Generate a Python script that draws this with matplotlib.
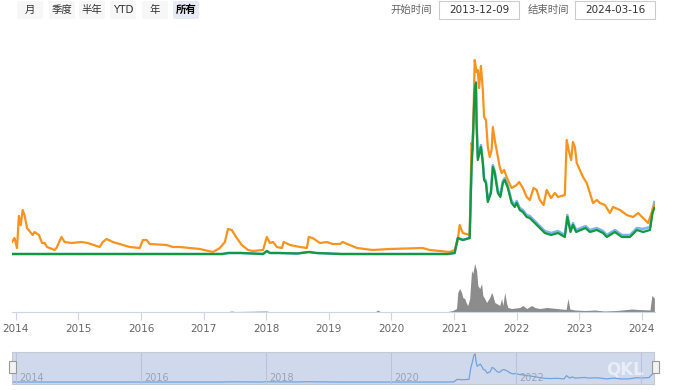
import matplotlib
matplotlib.use('Agg')
import matplotlib.pyplot as plt
from matplotlib.patches import FancyBboxPatch, Rectangle

plt.rcParams['font.family'] = ['DejaVu Sans', 'Noto Sans CJK SC']

W, H = 680, 390

# Series (x = fractional year)
orange_x = [2013.94, 2013.98, 2014.02, 2014.05, 2014.08, 2014.11, 2014.14, 2014.18, 2014.27, 2014.30,
            2014.37, 2014.42, 2014.46, 2014.50, 2014.62, 2014.65, 2014.73, 2014.78, 2014.89, 2015.05,
            2015.15, 2015.34, 2015.39, 2015.45, 2015.55, 2015.82, 2015.98, 2016.03, 2016.09, 2016.14,
            2016.41, 2016.51, 2016.62, 2016.94, 2017.15, 2017.26, 2017.34, 2017.39, 2017.45, 2017.53,
            2017.61, 2017.71, 2017.79, 2017.95, 2018.01, 2018.06, 2018.11, 2018.17, 2018.25, 2018.28,
            2018.38, 2018.54, 2018.65, 2018.68, 2018.74, 2018.86, 2018.97, 2019.06, 2019.18, 2019.22,
            2019.45, 2019.70, 2019.97, 2020.50, 2020.61, 2020.93, 2021.01, 2021.06, 2021.09, 2021.14,
            2021.25, 2021.28, 2021.30, 2021.33, 2021.36, 2021.38, 2021.40, 2021.43, 2021.46, 2021.48,
            2021.51, 2021.54, 2021.57, 2021.60, 2021.62, 2021.65, 2021.68, 2021.73, 2021.76, 2021.80,
            2021.84, 2021.86, 2021.92, 2022.00, 2022.04, 2022.10, 2022.16, 2022.21, 2022.27, 2022.32,
            2022.37, 2022.43, 2022.48, 2022.55, 2022.61, 2022.66, 2022.77, 2022.80, 2022.83, 2022.87,
            2022.90, 2022.93, 2022.96, 2023.01, 2023.06, 2023.12, 2023.17, 2023.22, 2023.28, 2023.33,
            2023.41, 2023.49, 2023.54, 2023.65, 2023.76, 2023.86, 2023.94, 2024.02, 2024.10, 2024.17,
            2024.20]
orange_y = [1.4, 1.8, 0.8, 4.0, 3.1, 4.6, 4.1, 2.8, 2.1, 2.4,
            2.1, 1.3, 1.3, 0.9, 0.6, 0.8, 1.9, 1.4, 1.3, 1.4,
            1.3, 0.9, 1.4, 1.7, 1.4, 0.9, 0.8, 1.6, 1.6, 1.2,
            1.1, 0.9, 0.9, 0.7, 0.4, 0.8, 1.4, 2.7, 2.6, 1.8,
            1.1, 0.6, 0.5, 0.6, 1.9, 1.3, 1.4, 0.9, 0.8, 1.4,
            1.1, 0.9, 0.8, 1.9, 1.8, 1.3, 1.4, 1.2, 1.2, 1.4,
            0.8, 0.6, 0.7, 0.8, 0.6, 0.4, 0.6, 1.6, 3.1, 2.3,
            2.1, 11.3, 10.6, 19.6, 18.4, 18.6, 16.8, 19.0, 16.6, 13.9,
            13.6, 10.9, 9.9, 10.6, 12.9, 11.6, 10.6, 8.9, 8.3, 8.6,
            7.9, 7.6, 6.8, 7.1, 7.4, 6.8, 5.9, 5.6, 6.8, 6.6,
            5.6, 5.1, 6.6, 5.8, 6.3, 5.9, 6.1, 11.6, 10.6, 9.6,
            11.4, 10.9, 9.3, 8.6, 7.9, 7.3, 6.3, 5.3, 5.6, 5.3,
            5.1, 4.3, 4.9, 4.6, 4.1, 3.9, 4.3, 3.8, 3.3, 4.6,
            5.1]

green_x = [2013.94, 2017.30, 2017.39, 2017.60, 2017.95, 2018.01, 2018.06, 2018.20, 2018.50, 2018.68,
           2018.80, 2019.20, 2020.90, 2021.01, 2021.06, 2021.14, 2021.25, 2021.28, 2021.30, 2021.33,
           2021.35, 2021.36, 2021.38, 2021.43, 2021.46, 2021.48, 2021.51, 2021.54, 2021.59, 2021.62,
           2021.65, 2021.70, 2021.74, 2021.78, 2021.81, 2021.86, 2021.92, 2021.97, 2022.00, 2022.05,
           2022.10, 2022.16, 2022.21, 2022.29, 2022.37, 2022.45, 2022.55, 2022.66, 2022.77, 2022.81,
           2022.86, 2022.90, 2022.95, 2023.10, 2023.17, 2023.28, 2023.38, 2023.44, 2023.57, 2023.68,
           2023.81, 2023.92, 2024.02, 2024.13, 2024.17, 2024.20]
green_y = [0.2, 0.2, 0.3, 0.3, 0.2, 0.5, 0.3, 0.3, 0.25, 0.4,
           0.3, 0.2, 0.2, 0.3, 1.8, 1.6, 1.8, 8.9, 11.6, 16.6,
           17.3, 13.3, 9.6, 10.9, 9.3, 7.6, 7.3, 5.4, 6.3, 8.9,
           8.3, 6.3, 5.9, 7.3, 7.6, 6.8, 5.3, 4.9, 5.3, 4.6,
           4.4, 3.9, 3.8, 3.3, 2.8, 2.3, 2.1, 2.3, 1.9, 3.9,
           2.4, 3.1, 2.4, 2.8, 2.4, 2.6, 2.3, 1.9, 2.4, 1.9,
           1.9, 2.6, 2.4, 2.6, 4.3, 4.8]
blue_y = [0.2, 0.2, 0.3, 0.3, 0.2, 0.5, 0.3, 0.3, 0.25, 0.4,
          0.3, 0.2, 0.2, 0.3, 1.8, 1.6, 1.8, 9.0, 11.7, 16.7,
          17.4, 13.5, 9.8, 11.1, 9.5, 7.8, 7.5, 5.6, 6.5, 9.1,
          8.5, 6.5, 6.1, 7.5, 7.8, 7.0, 5.5, 5.1, 5.5, 4.8,
          4.6, 4.1, 4.0, 3.5, 3.0, 2.5, 2.3, 2.5, 2.1, 4.1,
          2.6, 3.3, 2.6, 3.0, 2.6, 2.8, 2.5, 2.1, 2.6, 2.1,
          2.1, 2.8, 2.7, 2.9, 4.6, 5.4]

vol_x = [2013.94, 2017.40, 2017.45, 2017.50, 2018.00, 2018.05, 2019.75, 2019.78, 2019.82, 2020.90,
         2020.98, 2021.04, 2021.06, 2021.09, 2021.12, 2021.14, 2021.17, 2021.20, 2021.22, 2021.25,
         2021.28, 2021.30, 2021.33, 2021.36, 2021.38, 2021.41, 2021.44, 2021.46, 2021.49, 2021.52,
         2021.54, 2021.57, 2021.60, 2021.62, 2021.65, 2021.68, 2021.73, 2021.76, 2021.78, 2021.81,
         2021.84, 2021.86, 2021.92, 2022.05, 2022.10, 2022.16, 2022.24, 2022.29, 2022.37, 2022.48,
         2022.64, 2022.79, 2022.82, 2022.85, 2022.93, 2023.10, 2023.25, 2023.40, 2023.60, 2023.84,
         2023.94, 2024.13, 2024.16, 2024.19, 2024.20]
vol_y = [0.5, 0.5, 1.0, 0.5, 1.0, 0.5, 0.5, 2.0, 0.5, 0.5,
         1.5, 3.5, 19.5, 23.5, 19.5, 14.5, 13.5, 8.5, 6.5, 13.5,
         41.5, 38.5, 48.5, 41.5, 26.5, 23.5, 28.5, 16.5, 13.5, 9.5,
         11.5, 14.5, 19.5, 16.5, 9.5, 8.5, 6.5, 13.5, 6.5, 19.5,
         8.5, 4.5, 3.5, 4.5, 6.5, 3.5, 6.5, 4.5, 3.5, 4.5,
         3.5, 2.5, 13.5, 3.0, 2.0, 1.5, 2.0, 1.0, 1.5, 3.0,
         2.5, 2.0, 16.5, 14.5, 14.0]

years = [2014, 2015, 2016, 2017, 2018, 2019, 2020, 2021, 2022, 2023, 2024]
nav_years = [2014, 2016, 2018, 2020, 2022, 2024]
buttons = ['月', '季度', '半年', 'YTD', '年', '所有']
start_date = '2013-12-09'
end_date = '2024-03-16'

x0, x1 = 2013.94, 2024.21
axis_col = '#ccd6eb'
label_col = '#666666'


def fx(px):
    return px / W


def fy(py):
    return 1 - py / H


fig = plt.figure(figsize=(W / 100, H / 100), dpi=100)

# price panel
ax = fig.add_axes([fx(12), fy(256), fx(655) - fx(12), fy(40) - fy(256)])
ax.plot(orange_x, orange_y, color='#f7931e', lw=1.6, zorder=3)
ax.plot(green_x, blue_y, color='#7cb5ec', lw=1.8, zorder=2)
ax.plot(green_x, green_y, color='#12983e', lw=1.6, zorder=4)
ax.set_xlim(x0, x1)
ax.set_ylim(0, 21.6)
ax.axis('off')

# volume panel
axv = fig.add_axes([fx(12), fy(312), fx(655) - fx(12), fy(256) - fy(312)])
axv.fill_between(vol_x, vol_y, color='#8c8c8c', lw=0)
axv.set_xlim(x0, x1)
axv.set_ylim(0, 56)
for s in ['top', 'left', 'right']:
    axv.spines[s].set_visible(False)
axv.spines['bottom'].set_color(axis_col)
axv.set_yticks([])
axv.set_xticks(years)
axv.set_xticklabels([str(y) for y in years], fontsize=7.5, color=label_col)
axv.tick_params(axis='x', length=6, color=axis_col, pad=3)

# navigator
axn = fig.add_axes([fx(12), fy(384), fx(654) - fx(12), fy(352) - fy(384)])
axn.set_facecolor('#d0d9ec')
axn.plot(green_x, blue_y, color='#6fa3e0', lw=0.9)
axn.set_xlim(x0, x1)
axn.set_ylim(-1.0, 18.5)
for y in nav_years:
    axn.axvline(y, color='#b8c3dc', lw=0.8)
    if y < 2024:
        axn.text(y + 0.05, -0.3, str(y), fontsize=7, color='#9aa3b5', ha='left', va='bottom')
for s in axn.spines.values():
    s.set_color('#c4c9d4')
axn.set_xticks([])
axn.set_yticks([])
axn.text(0.985, 0.45, 'QKL', transform=axn.transAxes, fontsize=12, fontweight='bold',
         color='white', alpha=0.55, ha='right', va='center')

# navigator handles
for hx in [12, 655]:
    fig.add_artist(Rectangle((fx(hx - 3.5), fy(373)), 7 / W, 12 / H, transform=fig.transFigure,
                             facecolor='#f2f2f2', edgecolor='#999999', lw=0.8))

# range selector buttons
bx = [17, 49, 79, 110, 142, 173]
for i, b in enumerate(buttons):
    sel = b == '所有'
    fig.add_artist(FancyBboxPatch((fx(bx[i]), fy(19)), 26 / W, 18 / H,
                                  boxstyle='round,pad=0,rounding_size=0.003',
                                  transform=fig.transFigure,
                                  facecolor='#e6ebf5' if sel else '#f7f7f7', edgecolor='none'))
    fig.text(fx(bx[i] + 13), fy(10), b, fontsize=7.5, ha='center', va='center',
             color='#000000' if sel else '#333333', fontweight='bold' if sel else 'normal',
             family=['DejaVu Sans', 'Noto Sans CJK SC'])

# date inputs
fig.text(fx(411), fy(10), '开始时间', fontsize=7.5, ha='center', va='center', color=label_col,
         family=['Noto Sans CJK SC'])
fig.text(fx(548), fy(10), '结束时间', fontsize=7.5, ha='center', va='center', color=label_col,
         family=['Noto Sans CJK SC'])
for left, txt in [(439, start_date), (575, end_date)]:
    fig.add_artist(Rectangle((fx(left), fy(19)), 80 / W, 18 / H, transform=fig.transFigure,
                             facecolor='white', edgecolor='#cccccc', lw=0.8))
    fig.text(fx(left + 40), fy(10), txt, fontsize=7.5, ha='center', va='center', color='#333333')

fig.savefig('out.png', dpi=100)
